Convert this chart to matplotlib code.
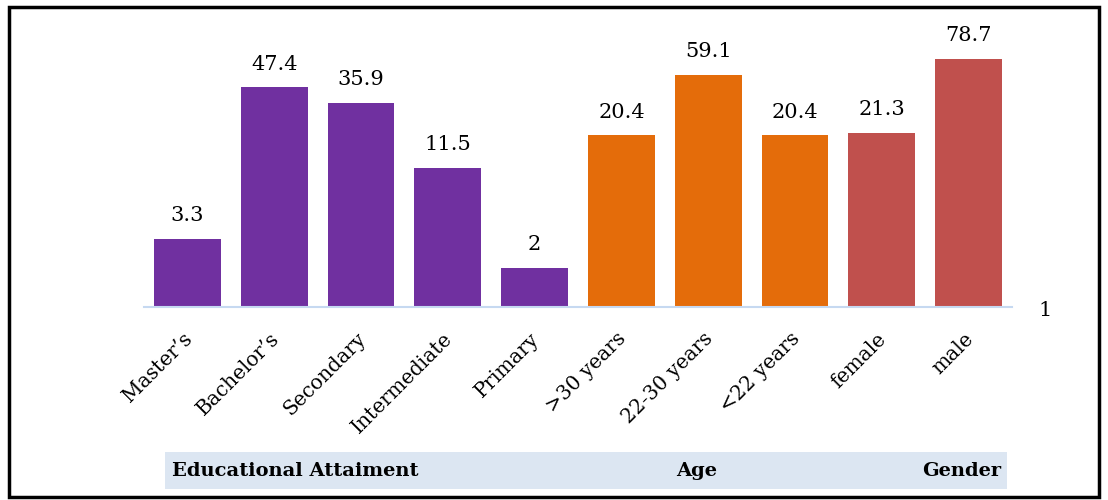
import numpy as np
import matplotlib
matplotlib.use('Agg')
import matplotlib.pyplot as plt
import matplotlib.transforms as mtransforms
from matplotlib.patches import Rectangle

plt.rcParams['font.family'] = ['DejaVu Serif']

# data
categories = ["Master\u2019s", "Bachelor\u2019s", "Secondary", "Intermediate", "Primary",
              ">30 years", "22-30 years", "<22 years", "female", "male"]
values = [3.3, 47.4, 35.9, 11.5, 2, 20.4, 59.1, 20.4, 21.3, 78.7]
value_labels = ["3.3", "47.4", "35.9", "11.5", "2", "20.4", "59.1", "20.4", "21.3", "78.7"]
groups = ["edu"] * 5 + ["age"] * 3 + ["gender"] * 2
group_colors = {"edu": "#7030A0", "age": "#E46C0A", "gender": "#C0504D"}

W, H = 1108, 500
fig = plt.figure(figsize=(W / 100, H / 100), dpi=100)
ax = fig.add_axes([144 / W, 1 - 307 / H, (1012 - 144) / W, (307 - 45) / H])

x = np.arange(len(categories))
cols = [group_colors[g] for g in groups]
ax.set_yscale('log')
bars = ax.bar(x, values, width=0.77, color=cols)
ax.set_ylim(1, 100)
ax.set_xlim(-0.5, len(categories) - 0.5)

for b, lab in zip(bars, value_labels):
    ax.annotate(lab, (b.get_x() + b.get_width() / 2, b.get_height()),
                xytext=(0, 10), textcoords='offset points', ha='center', va='bottom',
                fontsize=15, annotation_clip=False)

for s in ['top', 'left', 'right']:
    ax.spines[s].set_visible(False)
ax.spines['bottom'].set_color('#C6D9F1')
ax.spines['bottom'].set_linewidth(1.5)
ax.set_yticks([])
ax.minorticks_off()
ax.tick_params(axis='y', which='both', left=False, labelleft=False)
ax.set_xticks(x)
ax.set_xticklabels(categories, rotation=45, ha='right', rotation_mode='anchor', fontsize=14.5)
ax.tick_params(axis='x', length=0, pad=16)
shift = mtransforms.ScaledTranslation(-5 / 100, 0, fig.dpi_scale_trans)
for t in ax.get_xticklabels():
    t.set_transform(t.get_transform() + shift)

# right-hand "1" label
fig.text(1038 / W, 1 - 310 / H, "1", fontsize=15, va='center', ha='left')

# group band under the axis
fig.patches.append(Rectangle((165 / W, 1 - 489 / H), (1007 - 165) / W, 37 / H,
                             transform=fig.transFigure, facecolor='#DCE6F2', edgecolor='none'))
yb = 1 - 471 / H
fig.text(172 / W, yb, "Educational Attaiment", fontsize=14, fontweight='bold', va='center', ha='left')
fig.text(697 / W, yb, "Age", fontsize=14, fontweight='bold', va='center', ha='center')
fig.text(1001 / W, yb, "Gender", fontsize=14, fontweight='bold', va='center', ha='right')

# outer frame
fig.patches.append(Rectangle((9 / W, 1 - 497 / H), (1099 - 9) / W, (497 - 7) / H,
                             transform=fig.transFigure, facecolor='none', edgecolor='black', linewidth=2.5))

fig.savefig('out.png', dpi=100)
